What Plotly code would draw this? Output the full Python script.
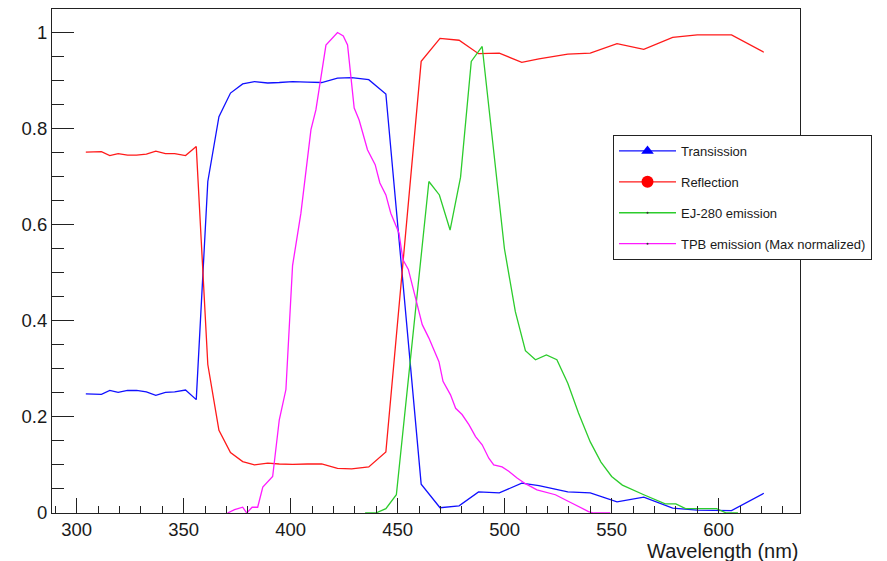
import plotly.graph_objects as go

# Transmission / Reflection sampling (nm)
wl_tr = [304.3, 308.2, 311.6, 315.5, 319.4, 323.8, 328.0, 332.6, 337.0, 341.5,
         345.8, 350.9, 355.9, 361.3, 366.5, 371.9, 377.6, 383.1, 389.3, 394.7,
         400.9, 407.9, 414.5, 421.9, 428.5, 436.5, 444.5, 461.0, 469.8, 478.7,
         487.8, 497.5, 508.0, 516.0, 529.5, 540.0, 552.5, 565.0, 578.5, 590.0,
         606.0, 621.1]

transmission = [0.248, 0.248, 0.247, 0.255, 0.251, 0.255, 0.255, 0.252, 0.245, 0.251,
                0.252, 0.256, 0.236, 0.690, 0.825, 0.874, 0.893, 0.898, 0.895, 0.896,
                0.898, 0.897, 0.896, 0.905, 0.906, 0.902, 0.872, 0.060, 0.011, 0.015,
                0.044, 0.042, 0.062, 0.057, 0.044, 0.042, 0.023, 0.033, 0.010, 0.006,
                0.005, 0.041]

reflection = [0.751, 0.752, 0.752, 0.744, 0.748, 0.745, 0.745, 0.747, 0.753, 0.748,
              0.748, 0.744, 0.763, 0.309, 0.172, 0.126, 0.107, 0.100, 0.104, 0.102,
              0.101, 0.102, 0.102, 0.093, 0.092, 0.096, 0.127, 0.940, 0.988, 0.984,
              0.956, 0.957, 0.938, 0.945, 0.955, 0.957, 0.977, 0.965, 0.990, 0.995,
              0.995, 0.959]

# EJ-280 emission
wl_ej = [434.8, 439.8, 444.5, 449.4, 464.6, 469.5, 474.5, 479.4, 484.4, 489.5,
         499.9, 505.0, 509.7, 514.4, 519.5, 524.4, 529.5, 534.5, 540.0, 545.0,
         550.0, 555.0, 565.0, 575.0, 580.0, 584.5, 599.0, 603.6, 609.0]
ej280 = [0.0, 0.0, 0.009, 0.038, 0.690, 0.662, 0.589, 0.699, 0.940, 0.971,
         0.550, 0.419, 0.338, 0.319, 0.329, 0.319, 0.270, 0.208, 0.148, 0.106,
         0.076, 0.058, 0.038, 0.019, 0.019, 0.009, 0.009, 0.0, 0.0]

# TPB emission (max normalized)
wl_tpb = [370.5, 373.8, 377.6, 379.5, 382.0, 384.6, 387.0, 391.6, 394.7, 397.8,
          400.9, 404.8, 409.5, 411.8, 416.5, 421.9, 424.6, 426.6, 429.7, 432.0,
          435.9, 439.5, 441.7, 444.5, 446.8, 450.6, 452.5, 455.0, 461.5, 464.6,
          469.3, 471.2, 474.7, 477.1, 480.1, 483.3, 486.4, 489.5, 492.6, 494.9,
          498.8, 501.9, 505.8, 509.7, 515.1, 523.7, 529.9, 534.5, 539.2, 541.5,
          549.3]
tpb = [0.0, 0.007, 0.012, 0.0, 0.012, 0.012, 0.054, 0.076, 0.194, 0.257,
       0.515, 0.624, 0.798, 0.839, 0.974, 1.000, 0.993, 0.974, 0.843, 0.818,
       0.756, 0.725, 0.687, 0.662, 0.624, 0.583, 0.527, 0.507, 0.392, 0.364,
       0.315, 0.274, 0.246, 0.218, 0.205, 0.184, 0.159, 0.142, 0.114, 0.100,
       0.096, 0.087, 0.073, 0.061, 0.048, 0.038, 0.024, 0.014, 0.003, 0.0,
       0.0]

legend_names = ["Transission", "Reflection", "EJ-280 emission", "TPB emission (Max normalized)"]
colors = ["#1010ff", "#ff1a1a", "#2ccc2c", "#ff1aff"]

FONT = "Liberation Sans, Arial, Helvetica, sans-serif"

fig = go.Figure()

series = [(wl_tr, transmission), (wl_tr, reflection), (wl_ej, ej280), (wl_tpb, tpb)]
for (xs, ys), c in zip(series, colors):
    fig.add_trace(go.Scatter(x=xs, y=ys, mode="lines", line=dict(color=c, width=1.3),
                             showlegend=False, hoverinfo="x+y"))

# legend-only entries (ROOT style markers)
leg_markers = [dict(symbol="triangle-up", size=11, color="#0000ff"),
               dict(symbol="circle", size=12, color="#ff0000"),
               dict(symbol="circle", size=2, color="#333333"),
               dict(symbol="circle", size=2, color="#333333")]
for i, (name, c, m) in enumerate(zip(legend_names, colors, leg_markers)):
    fig.add_trace(go.Scatter(x=[None], y=[None], mode="lines+markers", name=name,
                             line=dict(color=c, width=1.3), marker=m,
                             legendgroup=f"g{i}", showlegend=True))

axis_common = dict(showline=True, linecolor="#222222", linewidth=1, mirror=True,
                   ticks="inside", tickcolor="#222222", tickwidth=1,
                   showgrid=False, zeroline=False,
                   tickfont=dict(family=FONT, size=18.5, color="#1a1a1a"))

fig.update_xaxes(range=[288.5, 638.0], tickmode="linear", tick0=300, dtick=50, ticklen=15,
                 minor=dict(ticks="inside", dtick=10, tick0=300, ticklen=7,
                            tickcolor="#222222", showgrid=False),
                 **axis_common)
fig.update_yaxes(range=[0, 1.049], tickmode="linear", tick0=0, dtick=0.2, ticklen=22,
                 minor=dict(ticks="inside", dtick=0.05, tick0=0, ticklen=12,
                            tickcolor="#222222", showgrid=False),
                 **axis_common)

fig.add_annotation(text="Wavelength (nm)", xref="paper", yref="paper", x=1.0, y=-0.075,
                   xanchor="right", yanchor="middle", showarrow=False, borderpad=0,
                   font=dict(family=FONT, size=20, color="#1a1a1a"))

fig.update_layout(
    width=887, height=561,
    margin=dict(l=52, r=87, t=9, b=48),
    paper_bgcolor="white", plot_bgcolor="white",
    font=dict(family=FONT, color="#1a1a1a"),
    legend=dict(x=0.75, y=0.75, xanchor="left", yanchor="top",
                bgcolor="white", bordercolor="#222222", borderwidth=1,
                font=dict(family=FONT, size=13, color="#1a1a1a"),
                tracegroupgap=11, itemwidth=57, traceorder="grouped"),
    showlegend=True,
)

fig.write_html("out.html", config={"displayModeBar": False},
               post_script="document.body.style.margin='0';document.body.style.padding='0';")
